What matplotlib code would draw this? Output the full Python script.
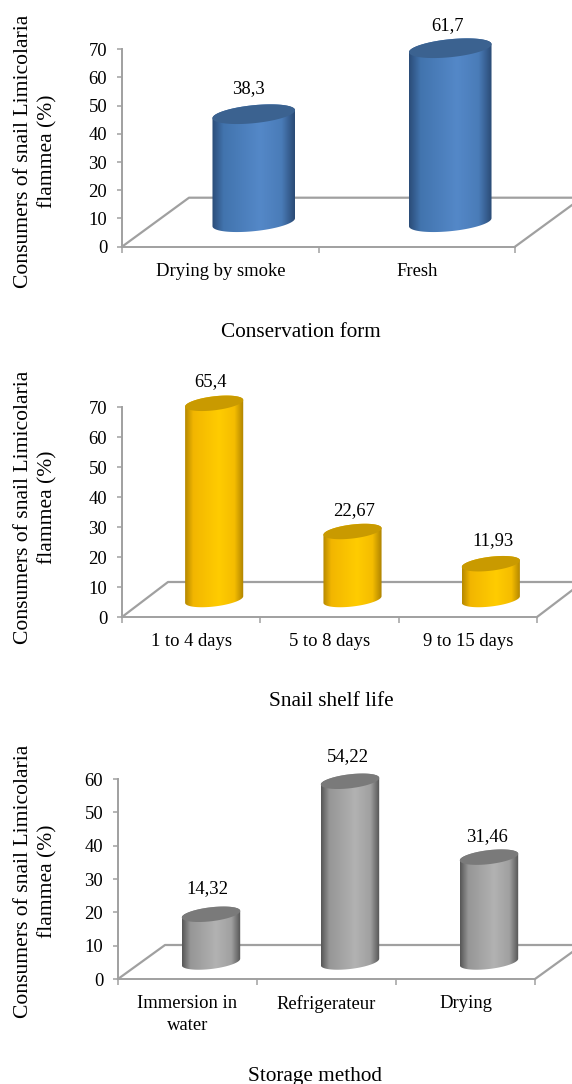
import numpy as np
import matplotlib
matplotlib.use('Agg')
import matplotlib.pyplot as plt
from matplotlib.colors import LinearSegmentedColormap
from matplotlib.patches import Polygon

plt.rcParams['font.family'] = ['Liberation Serif', 'DejaVu Serif']

W, H = 572, 1084

ylabel_text = 'Consumers of snail Limicolaria\nflammea (%)'

# conservation form
form_labels = ['Drying by smoke', 'Fresh']
form_values = [38.3, 61.7]
form_text = ['38,3', '61,7']
form_yticks = [0, 10, 20, 30, 40, 50, 60, 70]

# shelf life
shelf_labels = ['1 to 4 days', '5 to 8 days', '9 to 15 days']
shelf_values = [65.4, 22.67, 11.93]
shelf_text = ['65,4', '22,67', '11,93']
shelf_yticks = [0, 10, 20, 30, 40, 50, 60, 70]

# storage method
storage_labels = ['Immersion in\nwater', 'Refrigerateur', 'Drying']
storage_values = [14.32, 54.22, 31.46]
storage_text = ['14,32', '54,22', '31,46']
storage_yticks = [0, 10, 20, 30, 40, 50, 60]

# where the value labels sit relative to the top of each bar (pixels)
form_nudge = [(-5, 26), (-3, 23)]
shelf_nudge = [(-4, 22), (2, 21), (2, 23)]
storage_nudge = [(-4, 26), (-2, 25), (-2, 21)]

blue = ['#2b4c78', '#4274ae', '#5488c8', '#4a7cb8', '#2a4a75']
blue_top = '#3b6290'
yellow = ['#b58800', '#f2b600', '#ffcc00', '#f5bd00', '#ad8200']
yellow_top = '#c99a00'
grey = ['#565656', '#969696', '#b2b2b2', '#a0a0a0', '#525252']
grey_top = '#7a7a7a'
stops = [0, 0.14, 0.58, 0.84, 1]

axis_color = '#a0a0a0'
small_font = 13.4

fig = plt.figure(figsize=(W / 100, H / 100), dpi=100, facecolor='white')


def draw_panel(left, right, y0, ytop, back_x, back_y, labels, values, text, nudge, yticks,
               colors, top_color, title, title_x, title_y, ylabel_y, ell_b, ell_tilt):
    ax = fig.add_axes([left / W, 1 - y0 / H, (right - left) / W, (y0 - ytop) / H])
    n = len(labels)
    ymax = yticks[-1]
    px_x = (right - left) / n
    px_y = (y0 - ytop) / ymax

    # floor offset in data units
    dx = (back_x - left) / px_x
    dy = (y0 - back_y) / px_y

    ax.plot([0, dx, n + dx], [0, dy, dy], color=axis_color, lw=1.6, clip_on=False, zorder=1)
    ax.plot([n, n + dx], [0, dy], color=axis_color, lw=1.6, clip_on=False, zorder=1)

    cmap = LinearSegmentedColormap.from_list('cyl', list(zip(stops, colors)))
    half = 0.21
    b = ell_b / px_y
    tilt = ell_tilt / px_y
    t = np.linspace(0, 2 * np.pi, 121)

    for i, v in enumerate(values):
        cx = i + 0.5 + dx / 2
        cy = dy / 2
        ex = cx + half * np.cos(t)
        ey = b * np.sin(t) + tilt * np.cos(t)
        low = t >= np.pi
        high = t <= np.pi
        side = np.column_stack([
            np.concatenate([ex[low], ex[high]]),
            np.concatenate([ey[low] + cy, ey[high] + cy + v]),
        ])
        clip = Polygon(side, closed=True, transform=ax.transData, fc='none', ec='none')
        ax.add_patch(clip)
        clip.set_clip_on(False)
        im = ax.imshow(np.linspace(0, 1, 256)[None, :], cmap=cmap, aspect='auto',
                       extent=(cx - half, cx + half, cy - 2 * b, cy + v + 2 * b), zorder=3)
        im.set_clip_box(fig.bbox)
        im.set_clip_path(clip)
        ax.add_patch(Polygon(np.column_stack([ex, ey + cy + v]), closed=True, fc=top_color,
                             ec='none', zorder=4, clip_on=False))
        ax.annotate(text[i], (cx, cy + v), xytext=(nudge[i][0] * 0.72, nudge[i][1] * 0.72),
                    textcoords='offset points', ha='center', va='center',
                    fontsize=small_font, color='black', annotation_clip=False)

    ax.set_xlim(0, n)
    ax.set_ylim(0, ymax)
    ax.patch.set_alpha(0)

    for s in ['top', 'right']:
        ax.spines[s].set_visible(False)
    for s in ['left', 'bottom']:
        ax.spines[s].set_color(axis_color)
        ax.spines[s].set_linewidth(1.4)

    ax.set_yticks(yticks)
    ax.set_xticks(np.arange(n + 1))
    ax.set_xticklabels([])
    ax.set_xticks(np.arange(n) + 0.5, labels, minor=True)
    ax.tick_params(axis='x', which='major', length=4.3, width=1.1, color=axis_color)
    ax.tick_params(axis='x', which='minor', length=0, pad=11.5, labelsize=small_font)
    ax.tick_params(axis='y', length=3.6, width=1.1, color=axis_color, pad=7, labelsize=small_font)
    for lab in ax.get_xticklabels(minor=True):
        lab.set_linespacing(1.4)

    fig.text(36 / W, 1 - ylabel_y / H, ylabel_text, rotation=90, ha='center', va='center',
             fontsize=15.6, linespacing=1.38, multialignment='center')
    fig.text(title_x / W, 1 - title_y / H, title, ha='center', va='center', fontsize=15.3)


draw_panel(122, 515, 246.7, 49.3, 189, 197.7, form_labels, form_values, form_text, form_nudge, form_yticks,
           blue, blue_top, 'Conservation form', 301, 332, 151, 9, 4)
draw_panel(122, 537, 617, 407, 168, 582, shelf_labels, shelf_values, shelf_text, shelf_nudge, shelf_yticks,
           yellow, yellow_top, 'Snail shelf life', 331, 702, 507, 7, 3.3)
draw_panel(118, 535, 979, 779, 165, 945, storage_labels, storage_values, storage_text, storage_nudge, storage_yticks,
           grey, grey_top, 'Storage method', 314.5, 1076, 881, 7, 3.3)

fig.savefig('out.png', dpi=100)
